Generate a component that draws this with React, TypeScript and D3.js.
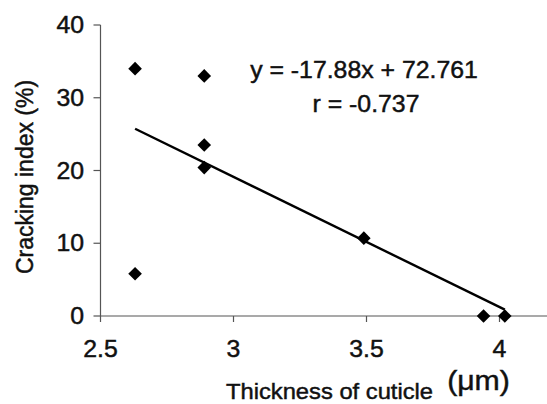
import React from "react";
import * as d3 from "d3";

const thickness = [2.63, 2.63, 2.89, 2.89, 2.89, 3.49, 3.94, 4.02];
const cracking = [34, 5.8, 33, 23.5, 20.4, 10.7, 0, 0];
const xTicks = [2.5, 3, 3.5, 4];
const xTickLabels = ["2.5", "3", "3.5", "4"];
const yTicks = [0, 10, 20, 30, 40];
const slope = -17.88;
const intercept = 72.761;
const equationText = "y = -17.88x + 72.761";
const rText = "r = -0.737";
const xTitle = "Thickness of cuticle";
const xUnit = "(\u03bcm)";
const yTitle = "Cracking index (%)";

const W = 547;
const H = 404;
const FONT = "'Liberation Sans', Arial, Helvetica, sans-serif";
const SX = 1.08;

export default function App() {
  const x = d3.scaleLinear().domain([2.5, 4]).range([100.5, 499.5]);
  const y = d3.scaleLinear().domain([0, 40]).range([316, 25]);
  const axisColor = "#555";
  const textColor = "#111";

  const xMin = d3.min(thickness) as number;
  const xMax = d3.max(thickness) as number;
  const line = d3
    .line<number>()
    .x((d) => x(d))
    .y((d) => y(slope * d + intercept));
  const diamond = d3.symbol().type(d3.symbolDiamond2).size(118)();

  const hText = (tx: number, ty: number, size: number, anchor: string, s: string) => (
    <text
      transform={`translate(${tx},${ty}) scale(${SX},1)`}
      fontSize={size}
      textAnchor={anchor}
      fill={textColor}
      stroke={textColor}
      strokeWidth={0.45}
      fontFamily={FONT}
    >
      {s}
    </text>
  );

  return (
    <svg
      width={W}
      height={H}
      style={{ position: "absolute", left: 0, top: 0, background: "#fff" }}
    >
      <rect x={0} y={0} width={W} height={H} fill="#fff" />
      {/* y axis */}
      <line x1={x(2.5)} x2={x(2.5)} y1={y(40)} y2={y(0)} stroke={axisColor} strokeWidth={1.2} />
      {yTicks.map((t) => (
        <g key={"yt" + t}>
          <line x1={x(2.5) - 7} x2={x(2.5)} y1={y(t)} y2={y(t)} stroke={axisColor} strokeWidth={1.2} />
          {hText(84, y(t) + 8, 23, "end", String(t))}
        </g>
      ))}
      {/* x axis */}
      <line x1={x(2.5)} x2={W} y1={y(0)} y2={y(0)} stroke={axisColor} strokeWidth={1.2} />
      {xTicks.map((t, i) => (
        <g key={"xt" + t}>
          <line x1={x(t)} x2={x(t)} y1={y(0)} y2={y(0) + 6} stroke={axisColor} strokeWidth={1.2} />
          {hText(x(t), 357, 23, "middle", xTickLabels[i])}
        </g>
      ))}
      {/* regression line */}
      <path d={line([xMin, xMax]) || ""} fill="none" stroke="#000" strokeWidth={2.4} />
      {/* points */}
      {thickness.map((t, i) => (
        <path key={"p" + i} d={diamond || ""} transform={`translate(${x(t)},${y(cracking[i])})`} fill="#000" />
      ))}
      {/* equation */}
      {hText(364, 78, 23, "middle", equationText)}
      {hText(366, 112, 23, "middle", rText)}
      {/* titles */}
      {hText(329.5, 399, 22, "middle", xTitle)}
      {hText(478.5, 390, 28, "middle", xUnit)}
      <text
        transform={`translate(33,177) scale(${SX},1) rotate(-90)`}
        fontSize={23}
        textAnchor="middle"
        fill={textColor}
        stroke={textColor}
        strokeWidth={0.45}
        fontFamily={FONT}
      >
        {yTitle}
      </text>
    </svg>
  );
}
